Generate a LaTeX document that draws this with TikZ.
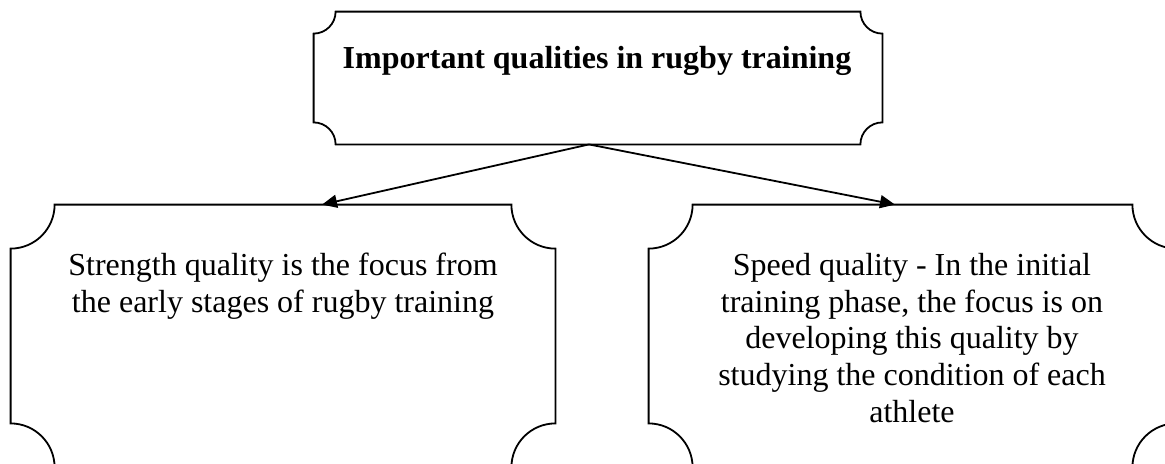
\documentclass[tikz,border=0pt]{standalone}
\usepackage{fontspec}
\setmainfont{Liberation Serif}
\usepackage{tikz}
\usetikzlibrary{arrows.meta,positioning,calc}
\definecolor{rgedge}{RGB}{0,0,0}
\tikzset{
  frame/.style={
    draw=none, inner sep=0pt, rectangle
  },
  plq/.style={draw=rgedge, line width=0.9pt, line join=miter},
  txt/.style={
    font=\fontsize{16pt}{18.3pt}\selectfont, align=center, inner sep=0pt
  },
  ttl/.style={txt, font=\fontsize{16pt}{18.3pt}\selectfont\bfseries},
  arr/.style={-{Triangle[length=7.5pt,width=6.5pt]}, draw=rgedge, line width=0.9pt}
}
% plaque outline round a node: #1 node name, #2 radius of the cut corners
\newcommand{\plaque}[2]{%
  \draw[plq] ([xshift=#2]#1.north west) -- ([xshift=-#2]#1.north east)
    arc[start angle=180, end angle=270, radius=#2]
    -- ([yshift=#2]#1.south east)
    arc[start angle=90, end angle=180, radius=#2]
    -- ([xshift=#2]#1.south west)
    arc[start angle=0, end angle=90, radius=#2]
    -- ([yshift=-#2]#1.north west)
    arc[start angle=270, end angle=360, radius=#2] -- cycle;}

\begin{document}
\begin{tikzpicture}[x=0.5pt,y=-0.5pt]
  \useasboundingbox (0,0) rectangle (1165,463);
  \clip (0,0) rectangle (1165,463);
  % the three frames
  \node[frame, minimum width=284pt, minimum height=66pt] (head) at (598,78) {};
  \node[frame, minimum width=272pt, minimum height=131pt] (strength) at (283,336) {};
  \node[frame, minimum width=263.5pt, minimum height=131pt] (speed) at (912.5,336) {};
  \plaque{head}{11pt}
  \plaque{strength}{22pt}
  \plaque{speed}{22pt}
  % texts
  \node[ttl, anchor=base] (headtxt) at (597,68) {Important qualities in rugby training};
  \node[txt, anchor=north] (strengthtxt) at (283,253)
    {Strength quality is the focus from\\the early stages of rugby training};
  \node[txt, anchor=north] (speedtxt) at (912,253)
    {Speed quality - In the initial\\training phase, the focus is on\\developing this quality by\\studying the condition of each\\athlete};
  % arrows from the head down to both frames
  \coordinate (fork) at ($(head.south)+(-4.5pt,0)$);
  \coordinate (lhit) at ($(strength.north)+(19.5pt,0)$);
  \coordinate (rhit) at ($(speed.north)+(-8.75pt,0)$);
  \draw[arr] (fork) -- (lhit);
  \draw[arr] (fork) -- (rhit);
\end{tikzpicture}
\end{document}
